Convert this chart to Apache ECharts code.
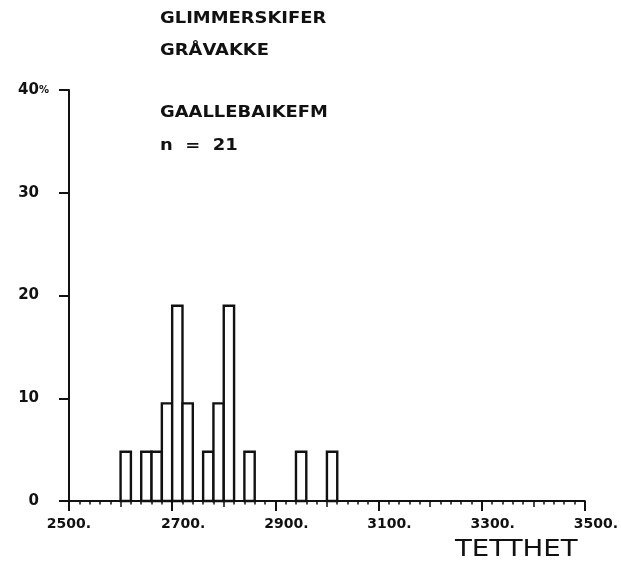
<!DOCTYPE html>
<html>
<head>
<meta charset="utf-8">
<script src="https://cdn.jsdelivr.net/npm/echarts@6/dist/echarts.min.js"></script>
<style>
html,body{margin:0;padding:0;background:#fff;}
#c{width:621px;height:564px;}
</style>
</head>
<body>
<div id="c"></div>
<script>
// ---- data ----
const binStarts = [2600, 2640, 2660, 2680, 2700, 2720, 2760, 2780, 2800, 2840, 2940, 3000];
const binWidth = 20;
const percents = [4.8, 4.8, 4.8, 9.5, 19.0, 9.5, 4.8, 9.5, 19.0, 4.8, 4.8, 4.8];
const xTickValues = [2500, 2700, 2900, 3100, 3300, 3500];
const xTickLabels = ['2500.', '2700.', '2900.', '3100.', '3300.', '3500.'];
const yTickValues = [0, 10, 20, 30, 40];
const yTickLabels = ['0', '10', '20', '30', '40'];
const titleLines = ['GLIMMERSKIFER', 'GRÅVAKKE', 'GAALLEBAIKEFM', 'n  =  21'];
const xAxisTitle = 'TETTHET';

const chart = echarts.init(document.getElementById('c'), null, {renderer: 'canvas'});
const FONT = '"DejaVu Sans", sans-serif';
const black = '#111';

const histData = binStarts.map((s, i) => [s, s + binWidth, percents[i]]);

const titleY = [19, 51, 113, 146];
const graphics = titleLines.map((t, i) => ({
  type: 'text', x: 160, y: titleY[i], scaleX: 1.12,
  style: {text: t, fill: black, font: 'bold 16px ' + FONT, verticalAlign: 'middle', align: 'left'}
}));
graphics.push({
  type: 'text', x: 455, y: 550, scaleX: 1.2,
  style: {text: xAxisTitle, fill: black, font: '23px ' + FONT, verticalAlign: 'middle', align: 'left'}
});

const option = {
  backgroundColor: '#fff',
  animation: false,
  grid: {left: 69, right: 33, top: 90, bottom: 63, containLabel: false},
  xAxis: [
    {
      type: 'value', min: 2500, max: 3500, interval: 100, position: 'bottom',
      axisLine: {show: true, lineStyle: {color: black, width: 2}},
      axisTick: {show: true, length: 6, lineStyle: {color: black, width: 1.5}},
      minorTick: {show: true, splitNumber: 5, length: 3.5, lineStyle: {color: black, width: 1.5}},
      axisLabel: {show: false},
      splitLine: {show: false}, minorSplitLine: {show: false}
    },
    {
      type: 'value', min: 2500, max: 3500, interval: 200, position: 'bottom',
      axisLine: {show: false},
      axisTick: {show: true, length: 10, lineStyle: {color: black, width: 2}},
      axisLabel: {
        show: true, margin: 16, color: black,
        formatter: function (v) {
          const i = xTickValues.indexOf(v);
          if (i < 0) return '';
          return i === 0 ? '{f|' + xTickLabels[i] + '}' : '{s|' + xTickLabels[i] + '}';
        },
        rich: {
          f: {fontFamily: FONT, fontWeight: 'bold', fontSize: 14, color: black},
          s: {fontFamily: FONT, fontWeight: 'bold', fontSize: 14, color: black, padding: [0, 0, 0, 22]}
        }
      },
      splitLine: {show: false}
    }
  ],
  yAxis: {
    type: 'value', min: 0, max: 40, interval: 10,
    axisLine: {show: true, lineStyle: {color: black, width: 2}},
    axisTick: {show: true, length: 10, lineStyle: {color: black, width: 2}},
    splitLine: {show: false},
    axisLabel: {
      show: true, margin: 20, color: black,
      formatter: function (v) {
        const i = yTickValues.indexOf(v);
        if (i < 0) return '';
        return v === 40 ? '{a|' + yTickLabels[i] + '}{p|%}' : '{b|' + yTickLabels[i] + '}';
      },
      rich: {
        a: {fontFamily: FONT, fontWeight: 'bold', fontSize: 15, color: black},
        b: {fontFamily: FONT, fontWeight: 'bold', fontSize: 15, color: black, padding: [0, 10, 0, 0]},
        p: {fontFamily: FONT, fontWeight: 'bold', fontSize: 10, color: black}
      }
    }
  },
  graphic: graphics,
  series: [{
    type: 'custom',
    xAxisIndex: 0, yAxisIndex: 0,
    encode: {x: [0, 1], y: 2},
    data: histData,
    renderItem: function (params, api) {
      const p0 = api.coord([api.value(0), 0]);
      const p1 = api.coord([api.value(1), api.value(2)]);
      return {
        type: 'rect',
        shape: {x: p0[0], y: p1[1], width: p1[0] - p0[0], height: p0[1] - p1[1]},
        style: {fill: '#fff', stroke: black, lineWidth: 2.4}
      };
    }
  }]
};
chart.setOption(option);
</script>
</body>
</html>
